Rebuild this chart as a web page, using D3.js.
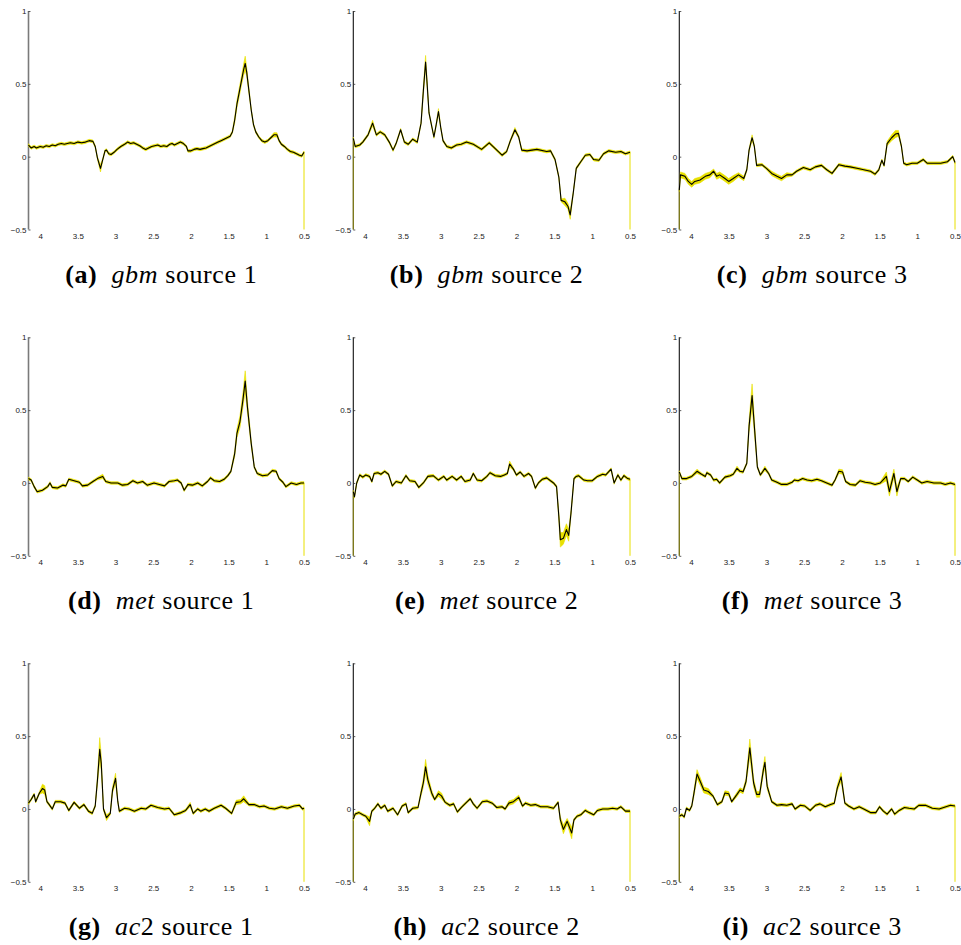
<!DOCTYPE html>
<html>
<head>
<meta charset="utf-8">
<script src="https://cdn.jsdelivr.net/npm/d3@7"></script>
<style>
  body { margin: 0; background: #fff; }
  svg { display: block; }
</style>
</head>
<body>
<svg width="961" height="945"></svg>
<script>
// tick labels / domains
var xTicks = [4, 3.5, 3, 2.5, 2, 1.5, 1, 0.5];
var yTicks = [-0.5, 0, 0.5, 1];
var ppmDomain = [4.155, 0.5];
var valueDomain = [-0.5, 1];

// caption pieces
var letters = ["a", "b", "c", "d", "e", "f", "g", "h", "i"];
var tissues = ["gbm", "met", "ac2"];
var sources = [1, 2, 3];

// spectra: [ppm, mean, (band half width)]
var gbm1 = [[4.155,0.08],[4.12,0.06],[4.08,0.07],[4.05,0.06],[4.0,0.07],[3.96,0.065],[3.92,0.075],[3.88,0.07],[3.84,0.08],[3.8,0.075],[3.76,0.085],[3.72,0.09],[3.68,0.085],[3.64,0.09],[3.6,0.095],[3.55,0.09],[3.5,0.1],[3.45,0.095],[3.4,0.1],[3.35,0.11],[3.3,0.105],[3.27,0.07],[3.24,-0.01],[3.2,-0.08,0.025],[3.17,-0.02],[3.14,0.04],[3.12,0.045],[3.09,0.02],[3.06,0.015],[3.02,0.03],[2.98,0.05],[2.93,0.07],[2.88,0.085],[2.84,0.1],[2.8,0.09],[2.76,0.095],[2.72,0.085],[2.68,0.075],[2.64,0.06],[2.6,0.05],[2.56,0.06],[2.52,0.07],[2.48,0.075],[2.44,0.08],[2.4,0.07],[2.36,0.075],[2.32,0.07],[2.28,0.085],[2.25,0.09],[2.22,0.08],[2.18,0.09],[2.14,0.1],[2.1,0.09],[2.06,0.07],[2.04,0.04],[2.0,0.04],[1.96,0.05],[1.92,0.055],[1.88,0.05],[1.84,0.055],[1.8,0.06],[1.76,0.07],[1.72,0.08],[1.68,0.09],[1.64,0.1],[1.6,0.11],[1.56,0.12],[1.52,0.13],[1.48,0.14],[1.45,0.17],[1.42,0.25,0.02],[1.39,0.36,0.025],[1.36,0.44,0.03],[1.33,0.52,0.03],[1.3,0.6,0.04],[1.28,0.64,0.05],[1.26,0.58,0.03],[1.23,0.45,0.02],[1.2,0.32],[1.17,0.22],[1.14,0.17],[1.1,0.135],[1.06,0.11],[1.02,0.1],[0.98,0.11],[0.94,0.13],[0.9,0.15,0.015],[0.86,0.15,0.015],[0.83,0.11],[0.8,0.085],[0.76,0.07],[0.72,0.05],[0.68,0.035],[0.64,0.03],[0.6,0.02],[0.56,0.01],[0.53,0.005],[0.5,0.03]];

var gbm2 = [[4.155,0.125],[4.13,0.07],[4.07,0.08],[4.03,0.1],[3.96,0.15],[3.9,0.23,0.02],[3.85,0.15],[3.8,0.17],[3.74,0.15],[3.68,0.1],[3.63,0.045],[3.59,0.09],[3.53,0.185],[3.48,0.1],[3.43,0.085],[3.37,0.12],[3.31,0.1],[3.26,0.23],[3.23,0.45,0.03],[3.2,0.65,0.045],[3.18,0.5,0.03],[3.155,0.3],[3.09,0.135],[3.06,0.22],[3.03,0.31,0.02],[3.0,0.2],[2.97,0.11],[2.92,0.07],[2.86,0.06],[2.79,0.08],[2.73,0.085],[2.66,0.1],[2.57,0.085],[2.46,0.05],[2.36,0.095],[2.28,0.055],[2.19,0.01],[2.13,0.035],[2.08,0.11],[2.02,0.185,0.015],[1.97,0.135],[1.93,0.045],[1.86,0.04],[1.73,0.05],[1.6,0.035],[1.55,0.04],[1.49,-0.02],[1.44,-0.14],[1.41,-0.3],[1.36,-0.31,0.025],[1.32,-0.34,0.02],[1.29,-0.4,0.03],[1.25,-0.25],[1.21,-0.08],[1.15,-0.035],[1.09,0.01],[1.03,0.015],[0.98,-0.02],[0.91,-0.025],[0.85,0.02],[0.78,0.04],[0.69,0.03],[0.62,0.035],[0.56,0.02],[0.5,0.03]];

var gbm3 = [[4.155,-0.23],[4.14,-0.125,0.02],[4.08,-0.135,0.02],[4.035,-0.17,0.02],[3.99,-0.19,0.02],[3.95,-0.17,0.02],[3.88,-0.16,0.02],[3.81,-0.135,0.02],[3.75,-0.125,0.02],[3.7,-0.1,0.015],[3.66,-0.135,0.02],[3.62,-0.125,0.02],[3.55,-0.15,0.02],[3.5,-0.17,0.02],[3.44,-0.15,0.02],[3.37,-0.125,0.015],[3.3,-0.15,0.015],[3.26,-0.09],[3.23,0.045],[3.19,0.13,0.02],[3.16,0.07],[3.13,-0.06],[3.06,-0.055],[3.0,-0.08],[2.93,-0.115,0.015],[2.86,-0.135,0.015],[2.8,-0.15,0.015],[2.73,-0.125,0.015],[2.66,-0.125],[2.6,-0.1],[2.51,-0.075],[2.42,-0.09],[2.35,-0.07],[2.27,-0.06],[2.2,-0.09],[2.13,-0.115],[2.04,-0.055],[1.96,-0.065],[1.89,-0.07],[1.8,-0.08],[1.71,-0.09],[1.62,-0.1],[1.56,-0.12],[1.51,-0.09],[1.47,-0.025],[1.44,-0.06],[1.4,0.09,0.015],[1.34,0.13,0.02],[1.29,0.155,0.025],[1.25,0.16,0.02],[1.21,0.07],[1.18,-0.045],[1.14,-0.055],[1.07,-0.045],[1.0,-0.045],[0.92,-0.02],[0.87,-0.045],[0.78,-0.045],[0.69,-0.045],[0.6,-0.035],[0.53,0.0],[0.5,-0.04]];

var met1 = [[4.155,0.03],[4.12,0.02],[4.08,-0.025],[4.04,-0.06],[3.97,-0.05],[3.9,-0.025],[3.87,0.0],[3.84,-0.03],[3.77,-0.035],[3.7,-0.015],[3.66,-0.02],[3.62,0.025],[3.55,0.015],[3.48,0.005],[3.44,-0.02],[3.37,-0.015],[3.3,0.01],[3.24,0.03],[3.17,0.045,0.015],[3.13,0.01],[3.06,0.0],[2.97,0.0],[2.91,-0.015],[2.84,-0.01],[2.77,0.015],[2.71,0.0],[2.64,0.01],[2.58,-0.015],[2.49,0.0],[2.42,-0.01],[2.35,-0.02],[2.29,0.01],[2.22,0.015],[2.18,0.02],[2.13,0.0],[2.09,-0.05],[2.04,-0.01],[1.98,-0.015],[1.91,0.0],[1.85,-0.02],[1.78,0.01],[1.74,0.035],[1.69,0.015],[1.62,0.01],[1.56,0.025],[1.51,0.05],[1.47,0.08],[1.42,0.2,0.02],[1.39,0.34,0.03],[1.35,0.42,0.04],[1.31,0.57,0.05],[1.28,0.7,0.07],[1.25,0.52,0.04],[1.2,0.27,0.02],[1.16,0.11],[1.12,0.065],[1.05,0.05],[0.98,0.055],[0.92,0.085],[0.87,0.08],[0.83,0.03],[0.78,0.005],[0.74,-0.025],[0.67,0.0],[0.6,-0.01],[0.54,0.0],[0.5,0.0]];

var met2 = [[4.155,-0.06],[4.14,-0.095],[4.11,0.0],[4.07,0.055],[4.03,0.04],[3.99,0.055],[3.94,0.045],[3.91,0.01],[3.88,0.065],[3.83,0.07],[3.79,0.06],[3.74,0.08],[3.69,0.06],[3.64,-0.02],[3.59,0.01],[3.52,0.0],[3.46,0.05],[3.41,0.015],[3.34,0.01],[3.29,-0.03],[3.23,0.0],[3.17,0.045],[3.1,0.05],[3.03,0.02],[2.96,0.045],[2.92,0.02],[2.85,0.045],[2.79,0.02],[2.73,0.045],[2.68,0.01],[2.61,0.02],[2.57,0.065],[2.52,0.02],[2.46,0.015],[2.39,0.045],[2.35,0.07],[2.28,0.05],[2.21,0.045],[2.16,0.055],[2.12,0.065],[2.09,0.13,0.02],[2.04,0.095],[2.0,0.055],[1.95,0.075],[1.9,0.045],[1.84,0.065],[1.8,0.045],[1.75,-0.035],[1.71,0.0],[1.66,0.025],[1.6,0.035],[1.55,0.015],[1.51,0.0],[1.47,-0.025],[1.44,-0.23,0.03],[1.42,-0.39,0.05],[1.38,-0.38,0.04],[1.34,-0.32,0.04],[1.31,-0.36,0.04],[1.28,-0.21,0.02],[1.24,0.03],[1.21,0.045],[1.18,0.05],[1.11,0.02],[1.06,0.015],[1.0,0.015],[0.93,0.045],[0.86,0.06],[0.82,0.055],[0.75,0.095],[0.71,0.0],[0.66,0.055],[0.62,0.02],[0.58,0.05],[0.53,0.03],[0.5,0.025]];

var met3 = [[4.155,0.075],[4.12,0.03],[4.06,0.03],[3.99,0.045],[3.92,0.08,0.015],[3.86,0.06],[3.81,0.045],[3.79,0.07],[3.74,0.055],[3.7,0.02],[3.66,0.025],[3.62,0.0],[3.55,0.04],[3.48,0.05],[3.44,0.06],[3.39,0.1,0.015],[3.35,0.08],[3.31,0.075],[3.26,0.135],[3.23,0.39,0.04],[3.19,0.6,0.08],[3.15,0.32,0.04],[3.12,0.11],[3.08,0.055],[3.02,0.1,0.015],[2.97,0.065],[2.93,0.02],[2.86,0.005],[2.8,-0.01],[2.73,-0.01],[2.66,0.005],[2.63,0.02],[2.58,0.015],[2.52,0.03],[2.46,0.02],[2.4,0.015],[2.33,0.025],[2.27,0.015],[2.2,0.0],[2.13,-0.015],[2.09,0.02],[2.04,0.08,0.015],[1.99,0.075,0.015],[1.95,0.01],[1.89,-0.01],[1.82,-0.015],[1.76,0.015],[1.69,0.005],[1.62,0.0],[1.56,-0.01],[1.49,0.0],[1.41,0.045,0.03],[1.37,-0.06,0.03],[1.31,0.065,0.03],[1.27,-0.06,0.03],[1.22,0.03],[1.17,0.03],[1.12,0.01],[1.06,0.04],[1.0,0.02],[0.94,0.0],[0.87,0.01],[0.78,0.0],[0.69,0.0],[0.63,-0.01],[0.56,0.0],[0.5,-0.01]];

var ac2_1 = [[4.155,0.04],[4.12,0.065],[4.08,0.1],[4.06,0.05],[4.01,0.11],[3.97,0.14,0.03],[3.94,0.13,0.03],[3.91,0.05],[3.88,0.03],[3.84,0.0],[3.8,0.05],[3.73,0.05],[3.67,0.04],[3.62,-0.01],[3.55,0.045],[3.48,0.005],[3.42,0.03],[3.36,-0.015],[3.31,-0.03],[3.27,0.02],[3.24,0.2,0.03],[3.21,0.41,0.08],[3.19,0.315,0.05],[3.16,0.0],[3.12,-0.06,0.02],[3.07,-0.03],[3.04,0.13,0.02],[3.0,0.21,0.035],[2.97,0.05],[2.95,-0.015],[2.88,0.005],[2.82,0.0],[2.75,-0.015],[2.66,0.005],[2.6,0.0],[2.53,0.025],[2.44,0.01],[2.35,0.0],[2.29,0.005],[2.22,-0.04],[2.13,-0.025],[2.07,-0.01],[2.01,0.03,0.015],[1.97,-0.03],[1.91,0.0],[1.87,-0.015],[1.81,0.0],[1.76,-0.015],[1.69,0.005],[1.6,0.025],[1.54,0.005],[1.46,-0.03],[1.4,0.045,0.015],[1.34,0.05,0.015],[1.3,0.07,0.02],[1.23,0.03],[1.16,0.03],[1.09,0.015],[1.03,0.02],[0.96,0.005],[0.89,0.0],[0.8,0.015],[0.72,0.005],[0.63,0.02],[0.56,0.025],[0.52,0.0],[0.5,0.005]];

var ac2_2 = [[4.155,-0.07],[4.13,-0.035],[4.08,-0.025],[4.03,-0.04],[3.99,-0.05],[3.94,-0.085,0.03],[3.91,-0.015],[3.88,0.0],[3.83,0.035],[3.79,0.005],[3.74,0.025],[3.7,-0.015],[3.63,0.005],[3.57,-0.04],[3.51,0.02],[3.46,0.035],[3.43,-0.025],[3.37,0.005],[3.3,0.01],[3.26,0.11,0.02],[3.23,0.18,0.03],[3.2,0.29,0.05],[3.17,0.2,0.03],[3.12,0.11,0.02],[3.08,0.065],[3.03,0.105,0.02],[2.99,0.09,0.02],[2.94,0.045],[2.88,0.025],[2.83,0.035],[2.78,-0.02],[2.72,0.015],[2.65,0.05],[2.61,0.07],[2.57,0.035],[2.52,0.005],[2.45,0.05],[2.39,0.055],[2.32,0.04],[2.26,0.01],[2.19,0.015],[2.15,0.0],[2.1,0.04,0.015],[2.04,0.05,0.015],[1.97,0.08,0.015],[1.92,0.02],[1.88,0.04],[1.81,0.025],[1.75,0.03],[1.68,0.015],[1.59,0.015],[1.51,0.005],[1.45,0.045],[1.42,-0.075,0.02],[1.38,-0.14,0.03],[1.33,-0.085,0.02],[1.27,-0.165,0.04],[1.24,-0.075],[1.2,-0.05],[1.15,-0.04],[1.09,-0.01],[1.04,-0.025],[0.98,-0.04],[0.93,-0.01],[0.86,0.0],[0.79,0.0],[0.73,0.005],[0.67,0.0],[0.62,0.015],[0.56,-0.015],[0.5,-0.015]];

var ac2_3 = [[4.155,-0.05],[4.12,-0.04],[4.09,-0.055],[4.06,0.005],[4.02,-0.01],[3.99,0.02],[3.96,0.11,0.02],[3.92,0.24,0.03],[3.87,0.18,0.025],[3.83,0.13,0.02],[3.77,0.12,0.02],[3.71,0.09],[3.65,0.03],[3.59,0.05],[3.55,0.11,0.015],[3.5,0.105,0.015],[3.46,0.05],[3.39,0.1,0.015],[3.35,0.13,0.015],[3.31,0.12,0.015],[3.27,0.19,0.02],[3.22,0.42,0.06],[3.17,0.18,0.03],[3.13,0.1,0.02],[3.09,0.1,0.02],[3.04,0.27,0.03],[3.02,0.32,0.04],[2.99,0.155,0.02],[2.93,0.05],[2.86,0.025],[2.8,0.03],[2.73,0.025],[2.66,0.035],[2.62,0.0],[2.55,0.025],[2.49,0.02],[2.42,-0.01],[2.35,0.025],[2.29,0.035],[2.22,0.015],[2.15,0.03],[2.1,0.04],[2.06,0.145,0.02],[2.01,0.22,0.03],[1.96,0.04],[1.91,0.02],[1.84,0.0],[1.77,0.015],[1.71,0.0],[1.62,-0.025],[1.55,-0.025],[1.5,0.015],[1.45,-0.015],[1.4,-0.035],[1.34,0.0],[1.3,-0.035],[1.24,-0.01],[1.17,0.01],[1.11,0.005],[1.04,0.0],[0.98,0.025],[0.89,0.025],[0.8,0.005],[0.71,0.0],[0.62,0.015],[0.56,0.025],[0.5,0.02]];

var spectra = [gbm1, gbm2, gbm3, met1, met2, met3, ac2_1, ac2_2, ac2_3];

var defaultSpread = 0.009;

var svg = d3.select("svg");

// panel placement
var colLeft = [28.5, 353.3, 679.3],
	colRight = [304, 630, 955],
	rowTop = [11, 337.3, 663.3],
	plotH = 218.5;

var fmt = d3.format("");

spectra.forEach(function(data, k) {
	var row = Math.floor(k / 3), col = k % 3;

	var x = d3.scaleLinear().domain(ppmDomain).range([colLeft[col], colRight[col]]);
	var y = d3.scaleLinear().domain(valueDomain).range([rowTop[row] + plotH, rowTop[row]]);

	var g = svg.append("g").attr("class", "panel");

	var band = d3.area()
		.x(function(d) { return x(d[0]); })
		.y0(function(d) { return y(d[1] - (d[2] || defaultSpread)); })
		.y1(function(d) { return y(d[1] + (d[2] || defaultSpread)); });

	var line = d3.line()
		.x(function(d) { return x(d[0]); })
		.y(function(d) { return y(d[1]); });

	// y axis, ticks pointing into the plot
	var yAxis = d3.axisRight(y).tickValues(yTicks).tickSize(2).tickFormat(fmt);
	var ag = g.append("g")
		.attr("transform", "translate(" + colLeft[col] + ",0)")
		.call(yAxis);
	ag.select(".domain")
		.attr("d", "M0," + y(1) + "V" + y(-0.5))
		.attr("stroke", col == 0 ? "#7a7a7a" : "#111")
		.attr("stroke-width", col == 0 ? 1.6 : 1.1);
	ag.selectAll(".tick line").attr("stroke", "#333").attr("stroke-width", 0.8);
	ag.selectAll(".tick text")
		.attr("x", -2)
		.attr("text-anchor", "end")
		.attr("fill", "#222")
		.style("font-family", "'Liberation Sans', Arial, sans-serif")
		.style("font-size", "8px");

	// x tick labels only
	var xAxis = d3.axisBottom(x).tickValues(xTicks).tickSize(0).tickPadding(4).tickFormat(fmt);
	var xg = g.append("g")
		.attr("transform", "translate(0," + y(-0.5) + ")")
		.call(xAxis);
	xg.select(".domain").remove();
	xg.selectAll(".tick text")
		.attr("fill", "#222")
		.style("font-family", "'Liberation Sans', Arial, sans-serif")
		.style("font-size", "8px");

	// edges of the band drop to the bottom
	var first = data[0], last = data[data.length - 1];
	g.append("line")
		.attr("x1", x(last[0])).attr("x2", x(last[0]))
		.attr("y1", y(last[1])).attr("y2", y(-0.5))
		.attr("stroke", "#e8e000").attr("stroke-width", 1);
	if (col > 0) {
		g.append("line")
			.attr("x1", x(first[0])).attr("x2", x(first[0]))
			.attr("y1", y(first[1])).attr("y2", y(-0.5))
			.attr("stroke", "#c8c000").attr("stroke-opacity", 0.55).attr("stroke-width", 1.2);
	}

	g.append("path")
		.datum(data)
		.attr("d", band)
		.attr("fill", "#e8e000")
		.attr("stroke", "#e8e000")
		.attr("stroke-width", 0.6);

	g.append("path")
		.datum(data)
		.attr("d", line)
		.attr("fill", "none")
		.attr("stroke", "#000")
		.attr("stroke-width", 1.1)
		.attr("stroke-linejoin", "round");

	// caption: (a) gbm source 1
	var tissue = tissues[row];
	var cap = g.append("text")
		.attr("x", (colLeft[col] + colRight[col]) / 2 - 5)
		.attr("y", rowTop[row] + plotH + 53)
		.attr("text-anchor", "middle")
		.style("font-family", "'Liberation Serif', 'Times New Roman', serif")
		.style("font-size", "26px")
		.style("letter-spacing", "0.6px")
		.attr("fill", "#000");
	cap.append("tspan").attr("font-weight", "bold").text("(" + letters[k] + ")");
	cap.append("tspan").text("\u00a0\u00a0");
	if (tissue == "ac2") {
		cap.append("tspan").attr("font-style", "italic").text("ac");
		cap.append("tspan").text("2");
	} else {
		cap.append("tspan").attr("font-style", "italic").text(tissue);
	}
	cap.append("tspan").text(" source " + sources[col]);
});
</script>
</body>
</html>
